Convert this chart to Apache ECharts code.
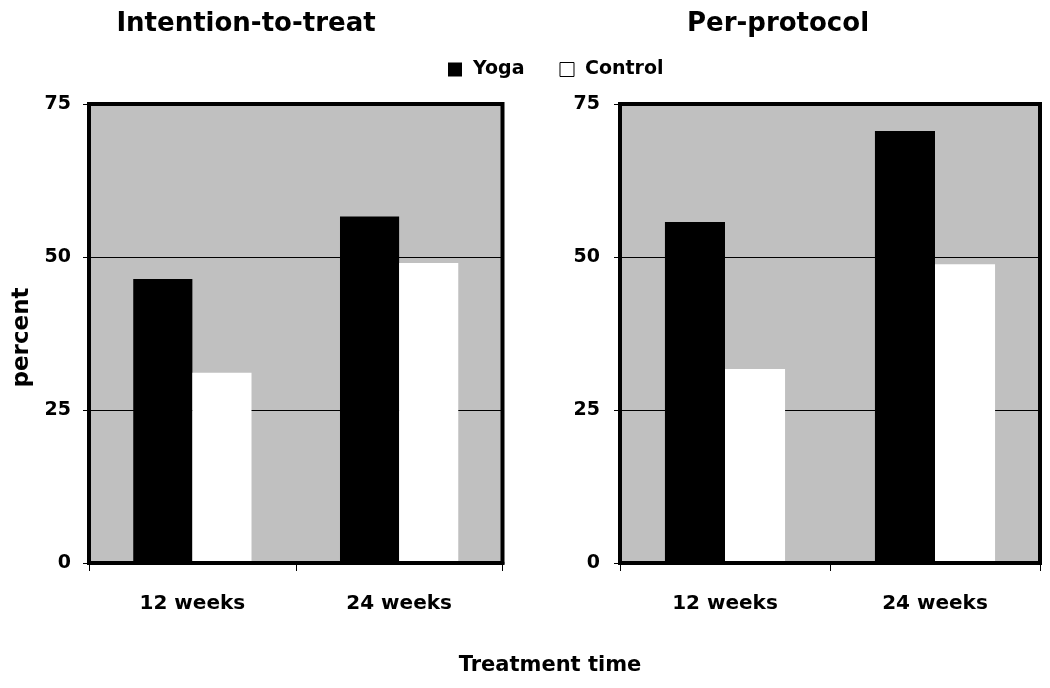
<!DOCTYPE html>
<html>
<head>
<meta charset="utf-8">
<script src="https://cdn.jsdelivr.net/npm/echarts@6/dist/echarts.min.js"></script>
<style>
html,body{margin:0;padding:0;background:#fff;}
#chart{width:1050px;height:688px;}
</style>
</head>
<body>
<div id="chart"></div>
<script>
const categories = ['12 weeks', '24 weeks'];
const seriesNames = ['Yoga', 'Control'];
const panelTitles = ['Intention-to-treat', 'Per-protocol'];
const ittYoga = [46.4, 56.6];
const ittControl = [31.1, 49.0];
const ppYoga = [55.7, 70.6];
const ppControl = [31.7, 48.8];
const yMin = 0, yMax = 75, yInterval = 25;
const yAxisTitle = 'percent';
const xAxisTitle = 'Treatment time';

const FONT = 'DejaVu Sans';
const chart = echarts.init(document.getElementById('chart'), null, {renderer: 'canvas'});

function gridCfg(left, width) {
  return {left: left, top: 104, width: width, height: 459, show: true,
    backgroundColor: '#c0c0c0', borderColor: '#000', borderWidth: 4};
}
function xAxisCfg(gi) {
  return {type: 'category', gridIndex: gi, data: categories, z: 5,
    axisLine: {show: true, lineStyle: {color: '#000', width: 4}},
    axisTick: {show: true, length: 8, lineStyle: {color: '#000', width: 1}},
    axisLabel: {color: '#000', fontFamily: FONT, fontWeight: 'bold', fontSize: 20, margin: 31},
    splitLine: {show: false}};
}
function yAxisCfg(gi, margin, withName) {
  const c = {type: 'value', gridIndex: gi, min: yMin, max: yMax, interval: yInterval,
    axisLine: {show: true, lineStyle: {color: '#000', width: 4}},
    axisTick: {show: true, length: 6, lineStyle: {color: '#000', width: 1}},
    axisLabel: {color: '#000', fontFamily: FONT, fontWeight: 'bold', fontSize: 19, margin: margin},
    splitLine: {show: true, lineStyle: {color: '#000', width: 1}}};
  if (withName) {
    c.name = yAxisTitle; c.nameLocation = 'middle'; c.nameRotate = 90; c.nameGap = 55;
    c.nameTextStyle = {color: '#000', fontFamily: FONT, fontWeight: 'bold', fontSize: 23, padding: [0, 8, 0, 0]};
  }
  return c;
}
function barSeries(name, data, gi, color) {
  return {type: 'bar', name: name, data: data, xAxisIndex: gi, yAxisIndex: gi,
    barWidth: '28.6%', barGap: '0%', itemStyle: {color: color}};
}

const option = {
  animation: false,
  textStyle: {fontFamily: FONT},
  legend: {
    left: 448, top: 60, padding: 0, itemWidth: 14, itemHeight: 14, itemGap: 35, icon: 'rect',
    textStyle: {color: '#000', fontFamily: FONT, fontWeight: 'bold', fontSize: 19, padding: [0, 0, 0, 6]},
    data: [
      {name: seriesNames[0], itemStyle: {color: '#000'}},
      {name: seriesNames[1], itemStyle: {color: '#fff', borderColor: '#000', borderWidth: 1}}
    ]
  },
  grid: [gridCfg(89, 413.5), gridCfg(620, 420)],
  xAxis: [xAxisCfg(0), xAxisCfg(1)],
  yAxis: [yAxisCfg(0, 18, true), yAxisCfg(1, 20, false)],
  series: [
    barSeries(seriesNames[0], ittYoga, 0, '#000'),
    barSeries(seriesNames[1], ittControl, 0, '#fff'),
    barSeries(seriesNames[0], ppYoga, 1, '#000'),
    barSeries(seriesNames[1], ppControl, 1, '#fff')
  ],
  graphic: [
    {type: 'text', x: 246, y: 24, style: {text: panelTitles[0], fill: '#000', textAlign: 'center', textVerticalAlign: 'middle', font: 'bold 26px "DejaVu Sans"'}},
    {type: 'text', x: 778, y: 24, style: {text: panelTitles[1], fill: '#000', textAlign: 'center', textVerticalAlign: 'middle', font: 'bold 26px "DejaVu Sans"'}},
    {type: 'text', x: 550, y: 666, style: {text: xAxisTitle, fill: '#000', textAlign: 'center', textVerticalAlign: 'middle', font: 'bold 21px "DejaVu Sans"'}}
  ]
};
chart.setOption(option);
</script>
</body>
</html>
